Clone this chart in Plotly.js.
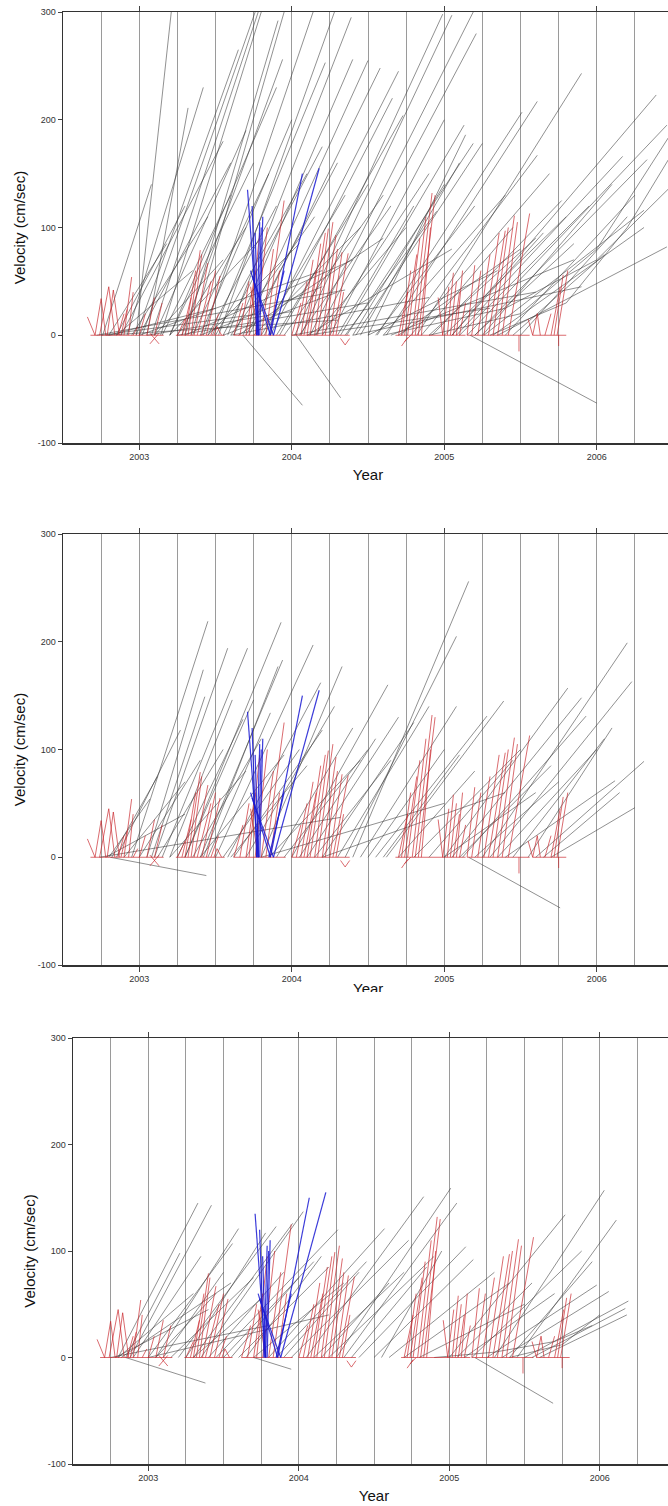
<!DOCTYPE html>
<html>
<head>
<meta charset="utf-8">
<script src="https://cdn.plot.ly/plotly-3.0.1.min.js"></script>
<style>
html,body{margin:0;padding:0;background:#fff;overflow:hidden;width:668px;height:1506px;}
.pan{position:absolute;left:0;background:#fff;}
</style>
</head>
<body>
<div id="p1" class="pan" style="top:0px;width:690px;height:495px;"></div>
<div id="p2" class="pan" style="top:495px;width:690px;height:497px;"></div>
<div id="p3" class="pan" style="top:992px;width:690px;height:514px;"></div>
<script>
// ---------- axis / labels ----------
const yearTicks = [2003, 2004, 2005, 2006];
const yearLabels = ['2003', '2004', '2005', '2006'];
const velTicks = [-100, 0, 100, 200, 300];
const velLabels = ['-100', '0', '100', '200', '300'];

// ---------- panel 1 gray (start at 0) ----------
const p1GrayStart = [2002.72,2002.75,2002.78,2002.80,2003.05,2003.25,2003.60,2004.00,2004.10,2004.40,
 2002.76,2002.98,2003.05,2002.92,2002.85,2002.80,2002.88,2002.98,2003.02,2003.08,
 2003.14,2003.00,2003.10,2002.95,2003.20,2003.28,2003.34,2003.30,2003.42,2003.48,
 2003.52,2003.35,2003.40,2003.58,2003.62,2003.68,2003.72,2003.82,2003.86,2003.92,
 2004.02,2004.06,2004.12,2004.16,2004.32,2004.36,2004.42,2004.56,2004.62,2004.72,
 2004.78,2004.82,2004.92,2005.08,2005.20,2005.26,2005.32,2005.05,2005.15,2005.35,
 2003.50,2003.55,2003.70,2003.45,2003.15,2003.20,2004.20,2004.30,2004.45,2004.50,
 2004.25,2004.60,2004.90,2005.00,2005.10,2005.25,2005.40,2005.50,2003.00,2003.30,
 2003.75,2003.95,2003.65,2004.10,2004.50,2004.70,2002.85,2003.40,2003.55,2004.65,
 2003.10,2003.20,2003.45,2003.60,2003.80,2003.90,2004.05,2004.15,2004.35,2004.40,
 2004.55,2004.85,2005.05,2005.20,2005.45,2003.25,
 2003.68,2004.03,2005.17];
const p1GrayEndT = [2004.35,2003.80,2004.30,2003.50,2004.00,2004.50,2004.90,2005.60,2005.30,2005.90,
 2003.08,2003.21,2003.32,2003.42,2003.30,2003.18,2003.55,2003.65,2003.76,2003.78,
 2003.80,2003.60,2003.70,2003.45,2003.90,2003.94,2003.95,2003.91,2004.14,2004.22,
 2004.28,2003.85,2004.00,2004.39,2004.40,2004.50,2004.58,2004.70,2004.66,2004.73,
 2004.99,2005.05,2005.19,2005.21,2005.13,2005.19,2005.25,2005.51,2005.61,2005.61,
 2005.69,2005.90,2005.77,2006.17,2006.33,2006.31,2006.31,2006.39,2006.46,2006.46,
 2004.10,2004.20,2004.30,2003.90,2003.60,2003.75,2004.90,2004.80,2005.10,2005.14,
 2005.00,2005.40,2005.60,2005.80,2005.95,2006.10,2006.25,2006.20,2004.20,2004.40,
 2004.45,2004.60,2004.60,2005.05,2005.35,2005.50,2003.35,2004.20,2004.30,2005.85,
 2003.55,2003.80,2004.05,2004.15,2004.35,2004.50,2004.65,2004.75,2004.95,2005.00,
 2005.20,2005.45,2005.65,2005.85,2006.05,2003.70,
 2004.07,2004.32,2006.00];
const p1GrayEndV = [42,20,14,25,22,30,35,40,25,45,
 140,300,211,230,120,85,180,265,300,300,
 300,160,190,110,230,256,300,292,300,253,
 300,150,200,295,256,255,248,245,220,204,
 298,297,300,280,195,178,178,207,217,167,
 150,243,125,166,163,116,100,223,195,82,
 150,175,160,120,130,160,150,120,160,186,
 200,130,90,110,120,140,130,110,60,70,
 100,130,90,80,60,80,60,45,40,70,
 70,90,85,110,130,140,120,100,115,140,
 120,100,95,85,75,100,
 -65,-58,-63];
// curved gray paths in panel 1
const p1CurveT = [[2004.90,2005.50,2006.00,2006.50],[2005.30,2005.80,2006.20,2006.50],[2004.60,2005.40,2006.00,2006.50]];
const p1CurveV = [[0,20,80,190],[0,30,100,170],[0,25,70,140]];

// ---------- panel 2 gray ----------
const p2GrayStart = [2002.74,2002.78,2002.80,2002.82,2002.85,2002.95,2003.05,2003.08,2003.10,2003.15,
 2003.20,2003.25,2003.30,2003.30,2003.40,2003.42,2003.50,2003.58,2003.45,2003.62,
 2003.00,2003.12,2002.90,2003.35,2003.70,2003.80,2003.90,2004.00,2004.05,2004.10,
 2004.20,2004.30,2004.35,2004.40,2004.45,2004.50,2004.55,2004.62,2004.70,2004.80,
 2005.00,2005.05,2005.12,2005.25,2005.30,2005.35,2005.40,2005.60,2005.70,2003.80,
 2004.20,2005.00,2005.20,2004.90,2003.55,2003.85,
 2003.20,2003.40,2003.60,2003.95,2004.15,2004.60,2005.10,2005.45,2005.55,2005.65,
 2002.81,2005.16];
const p2GrayEndT = [2004.32,2003.30,2003.07,2003.12,2003.27,2003.45,2003.42,2003.43,2003.58,2003.71,
 2003.61,2003.68,2003.75,2003.93,2003.94,2003.91,2004.14,2004.19,2003.86,2004.20,
 2003.40,2003.55,2003.30,2003.80,2004.28,2004.33,2004.40,2004.63,2004.55,2004.70,
 2004.80,2004.90,2005.08,2005.16,2005.08,2005.00,2005.28,2005.39,2005.20,2005.50,
 2005.81,2005.90,2005.93,2006.20,2006.23,2006.00,2006.12,2006.31,2006.25,2005.00,
 2005.40,2005.60,2005.75,2005.45,2004.05,2004.45,
 2003.70,2003.95,2004.10,2004.50,2004.65,2005.10,2005.70,2006.05,2006.10,2006.15,
 2003.44,2005.76];
const p2GrayEndV = [37,40,54,75,118,219,174,149,194,194,
 146,128,146,218,183,177,197,162,134,118,
 90,100,70,110,140,177,120,160,110,130,
 125,140,205,256,140,100,131,145,80,100,
 157,148,131,199,163,100,71,89,46,50,
 60,60,70,90,100,90,
 80,95,85,100,90,95,85,110,120,60,
 -17,-47];

// ---------- panel 3 gray ----------
const p3GrayStart = [2002.80,2002.88,2002.90,2002.85,2002.80,2002.78,2002.82,2003.00,2003.05,2003.10,
 2003.20,2003.35,2003.30,2003.25,2003.45,2003.50,2003.60,2003.70,2003.15,2003.40,
 2003.80,2003.95,2004.05,2004.25,2004.30,2004.40,2004.50,2004.10,2004.20,2004.60,
 2004.70,2005.00,2005.15,2005.30,2005.45,2005.25,2005.35,2005.50,2005.55,2005.60,
 2005.10,2004.80,2002.75,2003.00,2003.85,
 2003.05,2003.30,2003.55,2003.65,2003.90,2004.15,2004.35,2004.55,2005.05,2005.40,
 2002.85,2003.70,2005.17];
const p3GrayEndT = [2003.33,2003.42,2003.35,2003.21,2003.30,2003.40,2003.55,2003.56,2003.60,2003.50,
 2003.85,2004.03,2003.96,2003.78,2004.26,2004.10,2004.20,2004.30,2003.70,2003.90,
 2004.57,2004.73,2004.83,2005.01,2005.05,2005.11,2005.16,2004.70,2004.90,2005.30,
 2005.40,2005.77,2005.88,2006.03,2006.11,2005.98,2006.06,2006.19,2006.17,2006.18,
 2005.70,2005.50,2003.80,2004.20,2004.45,
 2003.45,2003.75,2004.00,2004.15,2004.40,2004.60,2004.85,2004.95,2005.55,2005.95,
 2003.38,2003.95,2005.69];
const p3GrayEndV = [145,143,95,98,60,45,70,107,121,80,
 123,137,126,117,120,90,85,70,75,80,
 121,110,151,159,145,104,92,80,95,80,
 70,134,100,157,129,68,62,53,46,40,
 60,50,30,40,90,
 60,55,75,95,80,70,85,100,70,90,
 -24,-11,-43];
const p3CurveT = [[2004.90,2005.30,2005.70,2005.95],[2005.40,2005.75,2006.00]];
const p3CurveV = [[0,5,15,30],[0,12,40]];

// ---------- red segments (shared) ----------
const redT0 = [2002.66,2002.71,2002.75,2002.74,2002.80,2002.79,2002.83,2002.86,2002.88,2002.90,2002.93,2002.96,2003.00,2003.05,2003.10,2003.07,2003.07,
 2003.25,2003.28,2003.30,2003.32,2003.34,2003.36,2003.38,2003.41,2003.44,2003.47,2003.49,2003.51,
 2003.62,2003.66,2003.70,2003.72,2003.76,2003.80,2003.83,2003.86,2003.73,
 2004.00,2004.03,2004.06,2004.08,2004.10,2004.12,2004.15,2004.17,2004.20,2004.22,2004.25,2004.27,2004.29,2004.32,2004.35,
 2004.70,2004.72,2004.74,2004.76,2004.79,2004.81,2004.83,2004.85,2004.72,2004.74,
 2004.96,2004.99,2005.02,2005.04,2005.06,2005.08,2005.10,
 2005.15,2005.18,2005.22,2005.26,2005.29,2005.32,2005.35,2005.38,2005.42,2005.49,
 2005.55,2005.58,2005.61,2005.66,2005.70,2005.72,2005.74,2005.75,
 2002.68,2003.24,2003.62,2004.00,2004.68,2005.15,2005.58];
const redV0 = [17,0,34,0,45,0,42,0,0,0,0,0,0,0,0,-8,2,
 0,0,0,0,0,0,0,0,0,0,0,8,
 0,0,0,0,0,0,0,0,45,
 0,0,0,0,0,0,0,0,0,0,0,0,0,-3,-9,
 0,0,0,0,0,0,0,0,-10,-6,
 35,0,0,0,0,0,0,
 0,0,0,0,0,0,0,0,0,0,
 15,0,20,0,0,0,0,0,
 0,0,0,0,0,0,0];
const redT1 = [2002.71,2002.75,2002.78,2002.80,2002.84,2002.83,2002.87,2002.90,2002.92,2002.95,2002.96,2002.99,2003.04,2003.10,2003.15,2003.13,2003.13,
 2003.30,2003.34,2003.37,2003.40,2003.41,2003.45,2003.47,2003.50,2003.53,2003.52,2003.51,2003.54,
 2003.68,2003.72,2003.76,2003.79,2003.84,2003.88,2003.95,2003.92,2003.78,
 2004.06,2004.10,2004.14,2004.16,2004.19,2004.22,2004.24,2004.27,2004.29,2004.30,2004.33,2004.37,2004.34,2004.35,2004.38,
 2004.76,2004.78,2004.82,2004.84,2004.88,2004.92,2004.94,2004.91,2004.76,2004.78,
 2004.99,2005.03,2005.06,2005.08,2005.10,2005.12,2005.14,
 2005.20,2005.24,2005.30,2005.36,2005.40,2005.42,2005.46,2005.48,2005.56,2005.49,
 2005.58,2005.61,2005.63,2005.70,2005.76,2005.78,2005.81,2005.75,
 2003.16,2003.56,2003.96,2004.38,2005.14,2005.56,2005.80];
const redV1 = [0,34,0,45,0,42,0,20,24,54,40,8,20,35,30,2,-8,
 15,35,60,79,75,67,50,60,55,20,8,0,
 30,50,60,95,100,80,125,60,0,
 30,50,70,60,85,95,99,105,93,80,77,76,40,-9,-3,
 40,60,75,90,110,132,130,100,-2,0,
 0,45,58,50,40,60,30,
 65,60,75,95,97,100,111,105,113,-15,
 0,20,0,20,45,56,60,-10,
 0,0,0,0,0,0,0];

// ---------- blue segments (shared) ----------
const blueT0 = [2003.71,2003.74,2003.76,2003.73,2003.74,2003.79,2003.78,2003.86,2003.88,2003.85,2003.77];
const blueV0 = [135,120,95,60,55,0,0,0,0,0,0];
const blueT1 = [2003.78,2003.77,2003.78,2003.86,2003.88,2003.81,2003.80,2004.07,2004.18,2003.95,2003.79];
const blueV1 = [0,0,0,0,0,110,100,150,155,60,105];

// ---------- builders ----------
function grayTrace(s, et, ev, curvesT, curvesV) {
  const x = [], y = [];
  for (let i = 0; i < s.length; i++) { x.push(s[i], et[i], null); y.push(0, ev[i], null); }
  if (curvesT) for (let k = 0; k < curvesT.length; k++) {
    x.push(...curvesT[k], null); y.push(...curvesV[k], null);
  }
  return {type:'scatter', mode:'lines', x, y, hoverinfo:'skip',
    line:{color:'rgba(55,55,55,0.55)', width:1}};
}
function segTrace(t0, v0, t1, v1, color, w) {
  const x = [], y = [];
  for (let i = 0; i < t0.length; i++) { x.push(t0[i], t1[i], null); y.push(v0[i], v1[i], null); }
  return {type:'scatter', mode:'lines', x, y, hoverinfo:'skip', line:{color, width:w}};
}
function layout(w, h, m, yearStandoff, yearAsAnnotation) {
  const L = {
    width: w, height: h, margin: m,
    paper_bgcolor:'#fff', plot_bgcolor:'#fff', showlegend:false,
    font:{family:'Liberation Sans, Arial, sans-serif', color:'#222'},
    xaxis:{range:[2002.5,2006.5], tickmode:'array', tickvals:yearTicks, ticktext:yearLabels,
      ticks:'outside', ticklen:5, tickcolor:'#444', tickwidth:1,
      showgrid:true, gridcolor:'#9a9a9a', gridwidth:1,
      minor:{tickmode:'linear', tick0:2002.75, dtick:0.25, showgrid:true, gridcolor:'#9a9a9a', gridwidth:1, ticks:''},
      showline:true, mirror:'ticks', linecolor:'#333', linewidth:1.5, zeroline:false,
      tickfont:{size:9, color:'#333'},
      title:{text: yearAsAnnotation ? '' : 'Year', font:{size:15, color:'#111'}, standoff:yearStandoff}},
    yaxis:{range:[-100,300], tickmode:'array', tickvals:velTicks, ticktext:velLabels,
      ticks:'outside', ticklen:4, tickcolor:'#444',
      showgrid:false, zeroline:false, showline:true, mirror:true, linecolor:'#333', linewidth:1.5,
      tickfont:{size:9, color:'#333'},
      title:{text:'Velocity (cm/sec)', font:{size:15, color:'#111'}, standoff:8}}
  };
  if (yearAsAnnotation) {
    L.annotations = [{text:'Year', xref:'paper', yref:'paper', x:0.5, y:-0.03, xanchor:'center', yanchor:'top',
      showarrow:false, font:{size:15, color:'#111'}}];
  }
  return L;
}
const cfg = {staticPlot:true, displayModeBar:false};
const red = () => segTrace(redT0, redV0, redT1, redV1, 'rgba(200,35,40,0.75)', 0.9);
const blue = () => segTrace(blueT0, blueV0, blueT1, blueV1, 'rgba(25,25,210,0.85)', 1.2);

Plotly.newPlot('p1', [grayTrace(p1GrayStart, p1GrayEndT, p1GrayEndV, p1CurveT, p1CurveV), red(), blue()],
  layout(690, 495, {l:63, r:17, t:12, b:52}, 8, false), cfg);
Plotly.newPlot('p2', [grayTrace(p2GrayStart, p2GrayEndT, p2GrayEndV), red(), blue()],
  layout(690, 497, {l:63, r:17, t:39, b:27}, 8, true), cfg);
Plotly.newPlot('p3', [grayTrace(p3GrayStart, p3GrayEndT, p3GrayEndV, p3CurveT, p3CurveV), red(), blue()],
  layout(690, 514, {l:73, r:15, t:46, b:42}, 8, false), cfg);
</script>
</body>
</html>
